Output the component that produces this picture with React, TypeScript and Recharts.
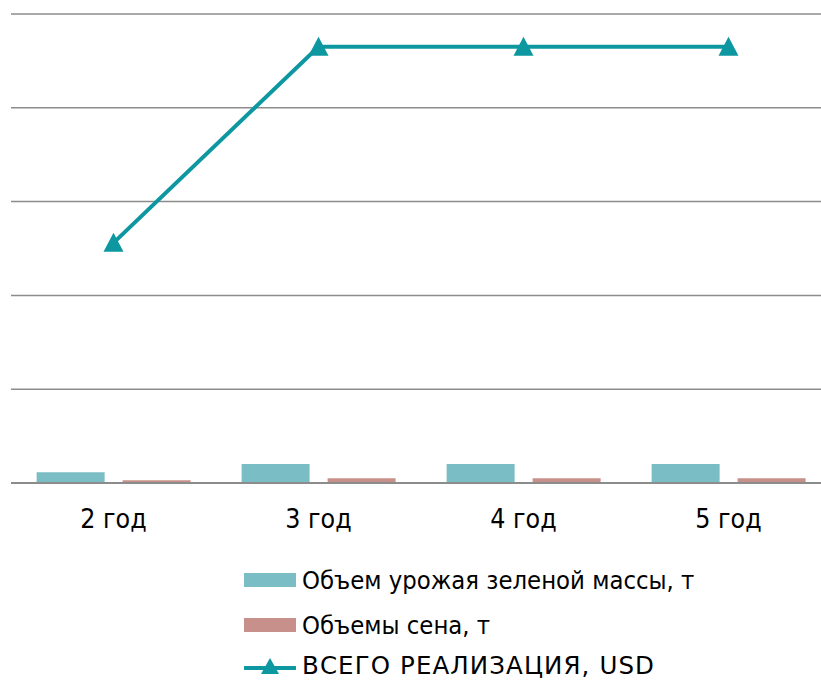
import React from 'react';
import { ComposedChart, Bar, Line, XAxis, YAxis, CartesianGrid, Legend } from 'recharts';

const years = ['2 год', '3 год', '4 год', '5 год'];
const greenMass = [5700, 10100, 10100, 10100];
const hay = [1450, 2500, 2500, 2500];
const totalSales = [128000, 232500, 232500, 232500];
const yTicks = [0, 50000, 100000, 150000, 200000, 250000];

const SERIES_NAMES = {
  greenMass: 'Объем урожая зеленой массы, т',
  hay: 'Объемы сена, т',
  totalSales: 'ВСЕГО РЕАЛИЗАЦИЯ, USD',
};

const TEAL_BAR = '#7bbdc5';
const ROSE_BAR = '#c8908a';
const LINE_COLOR = '#0c97a1';
const GRID_COLOR = '#8c8c8c';
const FONT = "Tahoma, 'DejaVu Sans Condensed', 'DejaVu Sans', sans-serif";
// capitals need the wider face
const CAPS_FONT = "Tahoma, 'DejaVu Sans', sans-serif";

const data = years.map((year, i) => ({
  year,
  greenMass: greenMass[i],
  hay: hay[i],
  totalSales: totalSales[i],
}));

const TriangleDot = (props: any) => {
  const { cx, cy, index } = props;
  if (cx == null || cy == null) return null;
  return (
    <path
      key={`tri-${index}`}
      d={`M${cx},${cy - 10} L${cx + 10},${cy + 9} L${cx - 10},${cy + 9} Z`}
      fill={LINE_COLOR}
    />
  );
};

const LegendRows = () => {
  const rowStyle: React.CSSProperties = {
    position: 'absolute',
    left: 244,
    display: 'flex',
    alignItems: 'center',
    fontFamily: FONT,
    fontSize: 25.4,
    color: '#000',
    whiteSpace: 'nowrap',
  };
  return (
    <div style={{ position: 'relative', width: '100%', height: 143 }}>
      <div style={{ ...rowStyle, top: 22 }}>
        <span style={{ width: 52, height: 14, background: TEAL_BAR, marginRight: 6 }} />
        {SERIES_NAMES.greenMass}
      </div>
      <div style={{ ...rowStyle, top: 67 }}>
        <span style={{ width: 52, height: 14, background: ROSE_BAR, marginRight: 6 }} />
        {SERIES_NAMES.hay}
      </div>
      <div style={{ ...rowStyle, top: 108 }}>
        <svg width={52} height={20} style={{ marginRight: 6 }}>
          <line x1={1} y1={12} x2={51} y2={12} stroke={LINE_COLOR} strokeWidth={4} strokeLinecap="round" />
          <path d="M26,2 L35,18 L17,18 Z" fill={LINE_COLOR} />
        </svg>
        <span style={{ fontFamily: CAPS_FONT, fontSize: 24.5, letterSpacing: 1.1 }}>
          {SERIES_NAMES.totalSales}
        </span>
      </div>
    </div>
  );
};

export default function App() {
  return (
    <div
      style={{
        position: 'absolute',
        left: 0,
        top: 0,
        width: 821,
        height: 686,
        overflow: 'hidden',
        background: '#fff',
      }}
    >
      <ComposedChart
        width={850}
        height={686}
        data={data}
        margin={{ top: 14, right: 19, bottom: 0, left: 11 }}
        barCategoryGap="12.5%"
        barGap={18}
      >
        <CartesianGrid vertical={false} stroke={GRID_COLOR} strokeWidth={1.5} />
        <YAxis hide domain={[0, 250000]} ticks={yTicks} />
        <XAxis
          dataKey="year"
          height={60}
          tickLine={false}
          axisLine={{ stroke: GRID_COLOR, strokeWidth: 2 }}
          tickMargin={20}
          tick={{ fill: '#000', fontSize: 26.5, fontFamily: FONT }}
        />
        <Legend
          verticalAlign="bottom"
          content={<LegendRows />}
          wrapperStyle={{ left: 0, width: 850, height: 143 }}
        />
        <Bar dataKey="greenMass" name={SERIES_NAMES.greenMass} fill={TEAL_BAR} isAnimationActive={false} />
        <Bar dataKey="hay" name={SERIES_NAMES.hay} fill={ROSE_BAR} isAnimationActive={false} />
        <Line
          dataKey="totalSales"
          name={SERIES_NAMES.totalSales}
          stroke={LINE_COLOR}
          strokeWidth={4}
          dot={TriangleDot}
          activeDot={false}
          isAnimationActive={false}
        />
      </ComposedChart>
    </div>
  );
}
